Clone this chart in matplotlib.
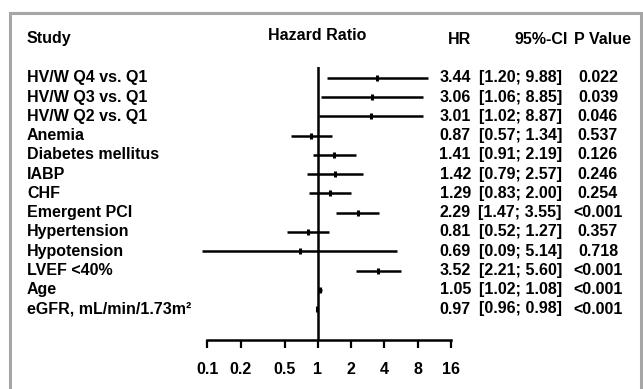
import matplotlib
matplotlib.use("Agg")
import matplotlib.pyplot as plt
import matplotlib.transforms as mtransforms
from matplotlib.patches import Rectangle

plt.rcParams['font.family'] = ['Liberation Sans', 'DejaVu Sans']
plt.rcParams['font.weight'] = 'bold'

studies = ["HV/W Q4 vs. Q1", "HV/W Q3 vs. Q1", "HV/W Q2 vs. Q1", "Anemia",
           "Diabetes mellitus", "IABP", "CHF", "Emergent PCI", "Hypertension",
           "Hypotension", "LVEF <40%", "Age", "eGFR, mL/min/1.73m\u00b2"]
hr = [3.44, 3.06, 3.01, 0.87, 1.41, 1.42, 1.29, 2.29, 0.81, 0.69, 3.52, 1.05, 0.97]
ci_lo = [1.20, 1.06, 1.02, 0.57, 0.91, 0.79, 0.83, 1.47, 0.52, 0.09, 2.21, 1.02, 0.96]
ci_hi = [9.88, 8.85, 8.87, 1.34, 2.19, 2.57, 2.00, 3.55, 1.27, 5.14, 5.60, 1.08, 0.98]
p_values = ["0.022", "0.039", "0.046", "0.537", "0.126", "0.246", "0.254",
            "<0.001", "0.357", "0.718", "<0.001", "<0.001", "<0.001"]
x_ticks = [0.1, 0.2, 0.5, 1, 2, 4, 8, 16]
x_ticklabels = ["0.1", "0.2", "0.5", "1", "2", "4", "8", "16"]

W, H = 643, 389
fig = plt.figure(figsize=(W / 100, H / 100), dpi=100)

def fx(px):
    return px / W

def fy(py):
    return 1 - py / H

# forest axes: x from 0.1 (px 207.5) to 16 (px 451); y from px 67 to 340
ax_left, ax_right = 207.5, 451
ax_top, ax_bot = 67, 340
ax = fig.add_axes([fx(ax_left), fy(ax_bot), fx(ax_right - ax_left), (ax_bot - ax_top) / H])
ax.set_xscale('log', base=2)
ax.set_xlim(0.1, 16)
row0, rstep = 78, 19.25
ax.set_ylim((ax_bot - row0) / rstep, (ax_top - row0) / rstep)

n = len(studies)
rows = list(range(n))
for i in rows:
    ax.plot([ci_lo[i], ci_hi[i]], [i, i], color='black', lw=1.8, clip_on=False,
            solid_capstyle='butt')
    ax.plot([hr[i]], [i], marker='|', markersize=4.8, mew=2.2, color='black', clip_on=False)

ax.axvline(1, color='black', lw=1.8)

for s in ['left', 'top', 'right']:
    ax.spines[s].set_visible(False)
ax.spines['bottom'].set_linewidth(1.8)
ax.set_yticks([])
ax.set_xticks(x_ticks)
ax.set_xticklabels(x_ticklabels)
ax.minorticks_off()
ax.tick_params(axis='x', direction='out', length=6, width=1.6, pad=10,
               labelsize=11.5)
for lab in ax.get_xticklabels():
    lab.set_fontweight('bold')
ax.patch.set_alpha(0)

fs = 11.5
blend = mtransforms.blended_transform_factory(fig.transFigure, ax.transData)

# headers
fig.text(fx(27), fy(39), "Study", ha='left', va='center', fontsize=fs, fontweight='bold')
fig.text(fx(317), fy(35), "Hazard Ratio", ha='center', va='center', fontsize=fs, fontweight='bold')
fig.text(fx(471), fy(40), "HR", ha='right', va='center', fontsize=fs, fontweight='bold')
fig.text(fx(568), fy(40), "95%-CI", ha='right', va='center', fontsize=fs, fontweight='bold')
fig.text(fx(574), fy(40), "P Value", ha='left', va='center', fontsize=fs, fontweight='bold')

for i in rows:
    ax.text(fx(27), i, studies[i], transform=blend, ha='left', va='center',
            fontsize=fs, fontweight='bold')
    ax.text(fx(471), i, f"{hr[i]:.2f}", transform=blend, ha='right', va='center',
            fontsize=fs, fontweight='bold')
    ax.text(fx(562), i, f"[{ci_lo[i]:.2f}; {ci_hi[i]:.2f}]", transform=blend,
            ha='right', va='center', fontsize=fs, fontweight='bold')
    ax.text(fx(598), i, p_values[i], transform=blend, ha='center', va='center',
            fontsize=fs, fontweight='bold')

# gray frame (open at bottom, extends past figure edge)
frame = Rectangle((fx(9.5), fy(420)), fx(640.5 - 9.5), (420 - 12.5) / H,
                  transform=fig.transFigure, fill=False, edgecolor='#a6a6a6',
                  lw=2.2, clip_on=False)
fig.patches.append(frame)

fig.savefig("out.png", dpi=100, facecolor='white')
